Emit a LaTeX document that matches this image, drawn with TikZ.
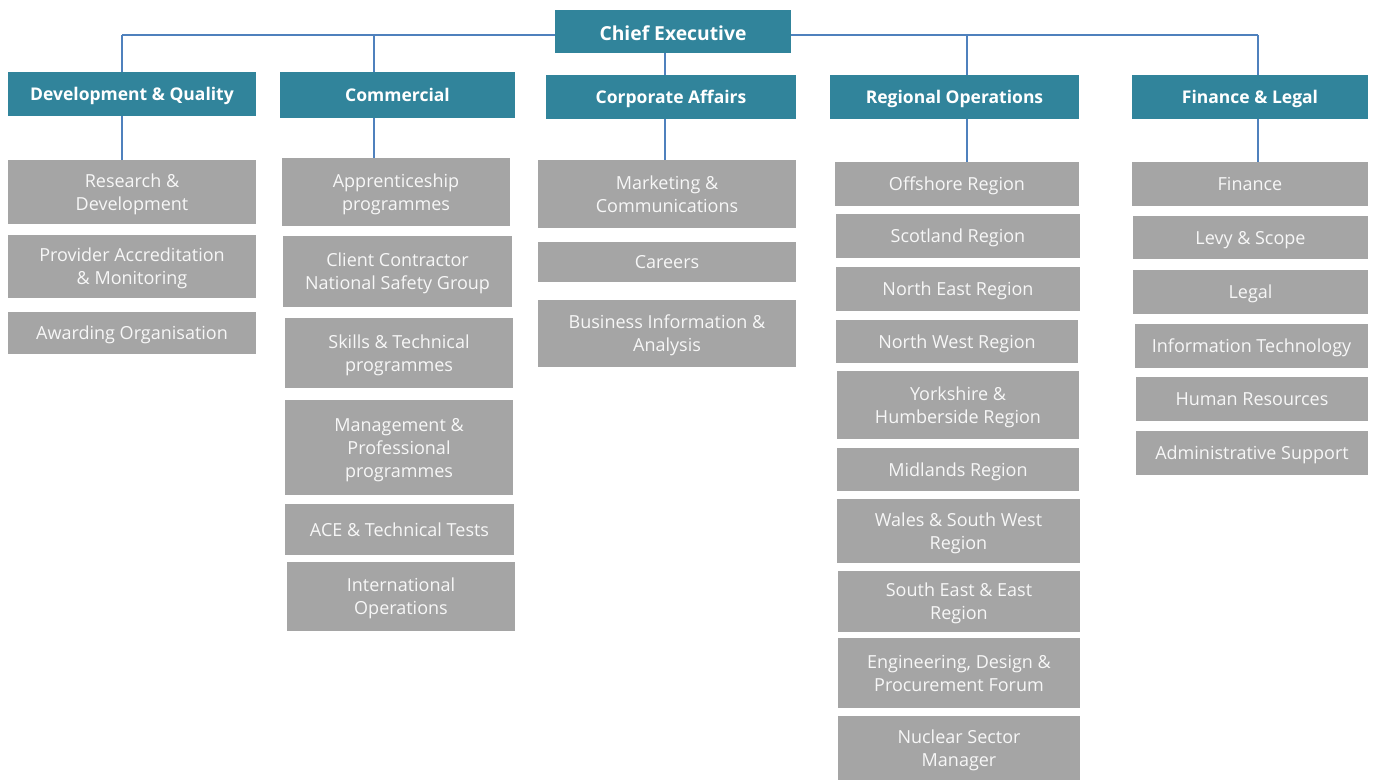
\documentclass[tikz,border=0pt]{standalone}
\usepackage{fontspec}
\setmainfont{Open Sans}
\usetikzlibrary{calc}

\definecolor{headteal}{HTML}{31849B}
\definecolor{unitgray}{HTML}{A5A5A5}
\definecolor{linkblue}{HTML}{4F81BD}

\tikzset{
  head/.style={fill=headteal, text=white, inner sep=0pt, text depth=0pt,
    font=\bfseries\fontsize{17.5}{20}\selectfont},
  unit/.style={fill=unitgray, text=white!97!black, inner sep=0pt, align=center,
    text depth=0pt, font=\fontsize{18}{23}\selectfont},
  link/.style={draw=linkblue, line width=1.8pt}
}

\begin{document}
\begin{tikzpicture}[x=1pt, y=-1pt]
\useasboundingbox[fill=white] (0,0) rectangle (1375,780);
% Top of the chart
\node[head, minimum width=236, minimum height=43, text height=18pt,
  font=\bfseries\fontsize{19.3}{22}\selectfont] (chief) at (673,31.5) {Chief Executive};
% Directorates
\node[head, minimum width=248, minimum height=44] (dev)  at (132,94)    {Development \& Quality};
\node[head, minimum width=235, minimum height=46] (com)  at (397.5,95)  {Commercial};
\node[head, minimum width=250, minimum height=44] (corp) at (671,97)    {Corporate Affairs};
\node[head, minimum width=249, minimum height=44] (reg)  at (954.5,97)  {Regional Operations};
\node[head, minimum width=236, minimum height=44] (fin)  at (1250,97)   {Finance \& Legal};
% Development & Quality units
\node[unit, minimum width=248, minimum height=64] (rd)  at (132,192)   {Research \&\\Development};
\node[unit, minimum width=248, minimum height=63] (pam) at (132,266.5) {Provider Accreditation\\\& Monitoring};
\node[unit, minimum width=248, minimum height=42] (ao)  at (132,333)   {Awarding Organisation};
% Commercial units
\node[unit, minimum width=228, minimum height=68] (app) at (396,192)   {Apprenticeship\\programmes};
\node[unit, minimum width=229, minimum height=71] (ccn) at (397.5,271.5) {Client Contractor\\National Safety Group};
\node[unit, minimum width=228, minimum height=70] (stp) at (399,353)   {Skills \& Technical\\programmes};
\node[unit, minimum width=228, minimum height=95] (mpp) at (399,447.5) {Management \&\\Professional\\programmes};
\node[unit, minimum width=229, minimum height=51] (ace) at (399.5,529.5) {ACE \& Technical Tests};
\node[unit, minimum width=228, minimum height=69] (intl) at (401,596.5) {International\\Operations};
% Corporate Affairs units
\node[unit, minimum width=258, minimum height=68] (mc)  at (667,194)   {Marketing \&\\Communications};
\node[unit, minimum width=258, minimum height=40] (car) at (667,262)   {Careers};
\node[unit, minimum width=258, minimum height=67] (bia) at (667,333.5) {Business Information \&\\Analysis};
% Regional Operations units
\node[unit, minimum width=244, minimum height=44] (off) at (957,184)   {Offshore Region};
\node[unit, minimum width=244, minimum height=44] (sco) at (958,236)   {Scotland Region};
\node[unit, minimum width=244, minimum height=44] (ne)  at (958,289)   {North East Region};
\node[unit, minimum width=242, minimum height=43] (nw)  at (957,341.5) {North West Region};
\node[unit, minimum width=242, minimum height=68] (yh)  at (958,405)   {Yorkshire \&\\Humberside Region};
\node[unit, minimum width=242, minimum height=43] (mid) at (958,469.5) {Midlands Region};
\node[unit, minimum width=243, minimum height=64] (wsw) at (958.5,531) {Wales \& South West\\Region};
\node[unit, minimum width=242, minimum height=61] (see) at (959,601.5) {South East \& East\\Region};
\node[unit, minimum width=242, minimum height=70] (edp) at (959,673)   {Engineering, Design \&\\Procurement Forum};
\node[unit, minimum width=242, minimum height=64] (nsm) at (959,748)   {Nuclear Sector\\Manager};
% Finance & Legal units
\node[unit, minimum width=236, minimum height=44] (fnc) at (1250,184)   {Finance};
\node[unit, minimum width=235, minimum height=43] (lev) at (1250.5,237.5) {Levy \& Scope};
\node[unit, minimum width=235, minimum height=44] (leg) at (1250.5,292) {Legal};
\node[unit, minimum width=233, minimum height=44] (ict) at (1251.5,346) {Information Technology};
\node[unit, minimum width=232, minimum height=44] (hr)  at (1252,399)   {Human Resources};
\node[unit, minimum width=232, minimum height=44] (adm) at (1252,453)   {Administrative Support};
% Drop points on the bus
\coordinate (tapdev) at (122,35);
\coordinate (tapcom) at (374,35);
\coordinate (tapreg) at (967,35);
\coordinate (tapfin) at (1258,35);
% Bus and drops
\draw[link] (tapdev) -- (tapdev -| chief.west);
\draw[link] (tapfin) -- (tapfin -| chief.east);
\draw[link] (tapdev) -- (tapdev |- dev.north);
\draw[link] (tapcom) -- (tapcom |- com.north);
\draw[link] (tapreg) -- (tapreg |- reg.north);
\draw[link] (tapfin) -- (tapfin |- fin.north);
\draw[link] ([xshift=-6pt]corp.north) -- ([xshift=-6pt]corp.north |- chief.south);
% Directorates to their first unit
\draw[link] (tapdev |- dev.south) -- (tapdev |- rd.north);
\draw[link] (tapcom |- com.south) -- (tapcom |- app.north);
\draw[link] ([xshift=-6pt]corp.south) -- ([xshift=-6pt]corp.south |- mc.north);
\draw[link] (tapreg |- reg.south) -- (tapreg |- off.north);
\draw[link] (tapfin |- fin.south) -- (tapfin |- fnc.north);
\end{tikzpicture}
\end{document}
